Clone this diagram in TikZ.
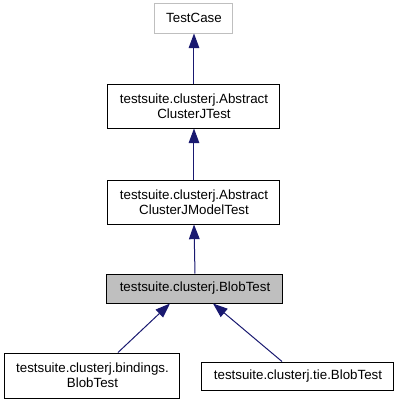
\documentclass[tikz,border=0pt]{standalone}
\usepackage{fontspec}
\setmainfont{Liberation Sans}
\usetikzlibrary{arrows.meta}
\definecolor{edgeblue}{HTML}{191970}
\definecolor{boxgray}{HTML}{BFBFBF}
\tikzset{
    classbox/.style={draw=black, line width=0.75pt, inner sep=0pt, align=center,
        font=\fontsize{10pt}{11.25pt}\selectfont},
    extbox/.style={classbox, draw=boxgray},
    curbox/.style={classbox, fill=boxgray},
    inherit/.style={draw=edgeblue, line width=0.75pt, -{Triangle[length=11pt,width=8pt]}}
}
\begin{document}
\begin{tikzpicture}[x=0.75pt, y=-0.75pt]
                    \useasboundingbox (0,0) rectangle (400,405);
                    % Classes
                    \node[extbox, minimum width=58.5pt, minimum height=22.5pt] (testcase) at (194,18) {TestCase};
                    \node[classbox, minimum width=129pt, minimum height=33pt] (absj) at (194,106) {testsuite.clusterj.Abstract\\ClusterJTest};
                    \node[classbox, minimum width=129pt, minimum height=33pt] (absjmodel) at (194,202) {testsuite.clusterj.Abstract\\ClusterJModelTest};
                    \node[curbox, minimum width=132pt, minimum height=21.75pt] (blob) at (195,288.5) {testsuite.clusterj.BlobTest};
                    \node[classbox, minimum width=131.25pt, minimum height=33.75pt] (bindblob) at (92.5,375.5) {testsuite.clusterj.bindings.\\BlobTest};
                    \node[classbox, minimum width=144pt, minimum height=21pt] (tieblob) at (298,376) {testsuite.clusterj.tie.BlobTest};
                    % Inheritance
                    \draw[inherit] (absj.north) -- (testcase.south);
                    \draw[inherit] (absjmodel.north) -- (absj.south);
                    \draw[inherit] (blob.north) -- (absjmodel.south);
                    \draw[inherit] ([xshift=19.1pt]bindblob.north) -- ([xshift=-18.75pt]blob.south);
                    \draw[inherit] ([xshift=-12pt]tieblob.north) -- ([xshift=13.5pt]blob.south);
                \end{tikzpicture}
\end{document}
